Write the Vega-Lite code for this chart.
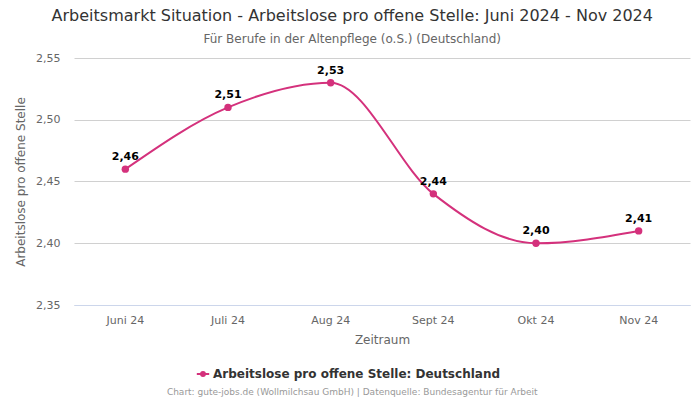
{
  "$schema": "https://vega.github.io/schema/vega-lite/v6.json",
  "padding": {"left": 14, "right": 10, "top": 8, "bottom": 2},
  "background": "#ffffff",
  "title": {
    "text": "Chart: gute-jobs.de (Wollmilchsau GmbH) | Datenquelle: Bundesagentur für Arbeit",
    "orient": "bottom",
    "frame": "bounds",
    "anchor": "middle",
    "font": "DejaVu Sans",
    "fontSize": 9,
    "fontWeight": "normal",
    "color": "#999999",
    "offset": 8
  },
  "data": {
    "values": [
      {"monat": "Juni 24", "wert": 2.46, "serie": "Arbeitslose pro offene Stelle: Deutschland"},
      {"monat": "Juli 24", "wert": 2.51, "serie": "Arbeitslose pro offene Stelle: Deutschland"},
      {"monat": "Aug 24", "wert": 2.53, "serie": "Arbeitslose pro offene Stelle: Deutschland"},
      {"monat": "Sept 24", "wert": 2.44, "serie": "Arbeitslose pro offene Stelle: Deutschland"},
      {"monat": "Okt 24", "wert": 2.40, "serie": "Arbeitslose pro offene Stelle: Deutschland"},
      {"monat": "Nov 24", "wert": 2.41, "serie": "Arbeitslose pro offene Stelle: Deutschland"}
    ]
  },
  "vconcat": [
    {
      "width": 616,
      "height": 247,
      "title": {
        "text": "Arbeitsmarkt Situation - Arbeitslose pro offene Stelle: Juni 2024 - Nov 2024",
        "subtitle": "Für Berufe in der Altenpflege (o.S.) (Deutschland)",
        "frame": "bounds",
        "font": "DejaVu Sans",
        "fontSize": 16,
        "fontWeight": "normal",
        "color": "#333333",
        "subtitleFont": "DejaVu Sans",
        "subtitleFontSize": 12,
        "subtitleColor": "#666666",
        "subtitlePadding": 10,
        "anchor": "middle",
        "offset": 7
      },
      "encoding": {
        "x": {
          "field": "monat",
          "type": "ordinal",
          "sort": ["Juni 24", "Juli 24", "Aug 24", "Sept 24", "Okt 24", "Nov 24"],
          "scale": {"type": "band", "paddingInner": 0, "paddingOuter": 0},
          "axis": {
            "title": "Zeitraum",
            "titleFont": "DejaVu Sans",
            "titleFontSize": 12,
            "titleFontWeight": "normal",
            "titleColor": "#666666",
            "titlePadding": 9,
            "labelFont": "DejaVu Sans",
            "labelFontSize": 11,
            "labelColor": "#666666",
            "labelAngle": 0,
            "labelPadding": 9,
            "ticks": false,
            "domainColor": "#ccd6eb",
            "grid": false
          }
        },
        "y": {
          "field": "wert",
          "type": "quantitative",
          "scale": {"domain": [2.35, 2.55], "nice": false, "zero": false},
          "axis": {
            "title": "Arbeitslose pro offene Stelle",
            "titleFont": "DejaVu Sans",
            "titleFontSize": 12,
            "titleFontWeight": "normal",
            "titleColor": "#666666",
            "titlePadding": 8,
            "labelFont": "DejaVu Sans",
            "labelFontSize": 11,
            "labelColor": "#666666",
            "labelPadding": 14,
            "values": [2.35, 2.4, 2.45, 2.5, 2.55],
            "labelExpr": "replace(format(datum.value, '.2f'), '.', ',')",
            "ticks": false,
            "domain": false,
            "gridColor": "#d0d0d0"
          }
        },
        "color": {
          "field": "serie",
          "type": "nominal",
          "scale": {"range": ["#d4317c"]},
          "legend": {
            "orient": "none",
            "legendX": 123,
            "legendY": 310,
            "direction": "horizontal",
            "title": null,
            "labelLimit": 0,
            "labelFont": "DejaVu Sans",
            "labelFontSize": 12,
            "labelFontWeight": "bold",
            "labelColor": "#333333",
            "symbolType": "M -1.6 0 L 1.6 0 M -0.5 0 A 0.5 0.5 0 1 0 0.5 0 A 0.5 0.5 0 1 0 -0.5 0",
            "symbolSize": 60,
            "symbolStrokeWidth": 2,
            "symbolFillColor": "#d4317c",
            "symbolStrokeColor": "#d4317c"
          }
        }
      },
      "layer": [
        {
          "mark": {"type": "line", "interpolate": "monotone", "strokeWidth": 2}
        },
        {
          "mark": {"type": "point", "filled": true, "opacity": 1, "size": 55}
        },
        {
          "mark": {"type": "text", "dy": -12, "font": "DejaVu Sans", "fontSize": 11, "fontWeight": "bold", "color": "#000000"},
          "encoding": {
            "text": {"field": "wert", "type": "quantitative", "format": ".2f"},
            "color": {"value": "#000000"}
          }
        }
      ]
    }
  ],
  "config": {
    "view": {"stroke": null},
    "locale": {"number": {"decimal": ",", "thousands": ".", "grouping": [3], "currency": ["", " €"]}}
  }
}
